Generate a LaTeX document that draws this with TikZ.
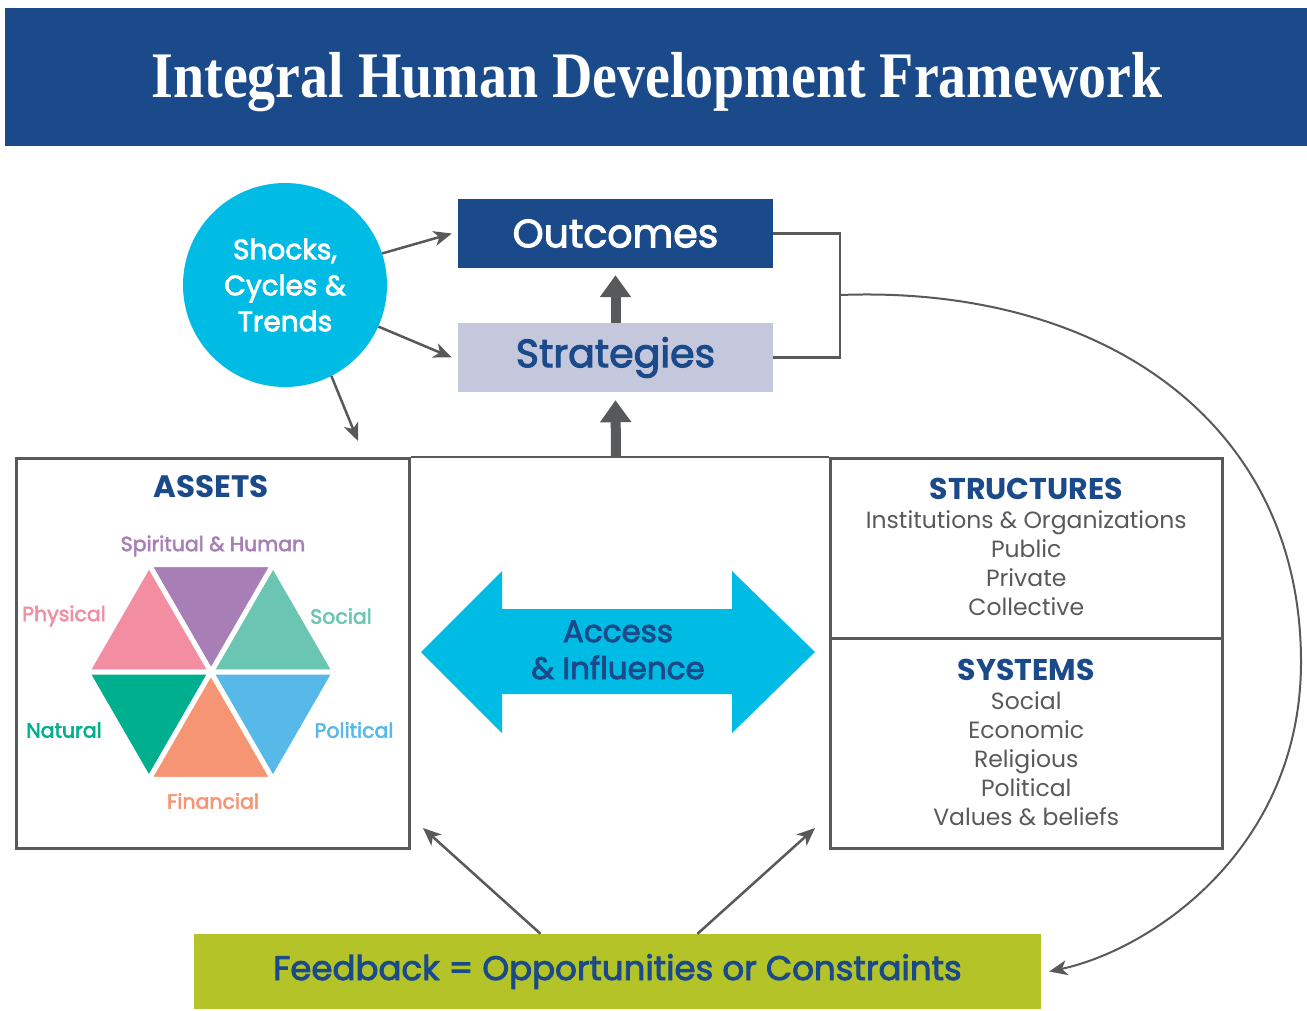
\documentclass[tikz,border=0pt]{standalone}
\usepackage{fontspec}
\setmainfont{Liberation Serif}
\setsansfont{Poppins}
\newfontfamily\medsans{Poppins}[FakeBold=2.6]
\usetikzlibrary{arrows.meta,positioning}

\definecolor{navy}{RGB}{26,74,137}
\definecolor{skyc}{RGB}{0,188,228}
\definecolor{lavend}{RGB}{197,200,220}
\definecolor{olivec}{RGB}{180,196,40}
\definecolor{linegray}{RGB}{88,89,91}
\definecolor{physical}{RGB}{242,141,162}
\definecolor{spirit}{RGB}{168,126,182}
\definecolor{social}{RGB}{107,197,179}
\definecolor{political}{RGB}{86,185,231}
\definecolor{financial}{RGB}{246,149,116}
\definecolor{natural}{RGB}{0,175,141}

\begin{document}
\begin{tikzpicture}[x=1pt, y=-1pt,
    panel/.style={draw=linegray, line width=2.5pt, inner sep=0pt, anchor=north west},
    conn/.style={draw=linegray, line width=2.5pt, -{Stealth[length=18pt, width=15pt, inset=5pt]}},
    fat/.style={draw=linegray, line width=10pt, -{Triangle[width=30pt, length=22pt]}},
    hexlabel/.style={font=\medsans\fontsize{20.5}{24}\selectfont},
    plain/.style={font=\sffamily\fontsize{23.5}{29}\selectfont, text=linegray, align=center}]
    \useasboundingbox (0,0) rectangle (1307,1010);

    % title band
    \node[fill=navy, minimum width=1302pt, minimum height=138pt, inner sep=0pt, anchor=north west] (banner) at (5,8) {};
    \node[anchor=base, text=white, font=\bfseries\fontsize{65}{65}\selectfont] (title) at (657,97)
        {\scalebox{0.86}[1]{Integral Human Development Framework}};

    % top part
    \node[circle, fill=skyc, minimum size=204pt, inner sep=0pt, text=white, align=center,
        font=\medsans\fontsize{28}{36}\selectfont] (shocks) at (285,285) {Shocks,\\Cycles \&\\Trends};
    \node[fill=navy, minimum width=315pt, minimum height=69pt, inner sep=0pt, text=white,
        font=\medsans\fontsize{39.5}{42}\selectfont] (outcomes) at (615.5,233.5) {Outcomes};
    \node[fill=lavend, minimum width=315pt, minimum height=69pt, inner sep=0pt, text=navy,
        font=\medsans\fontsize{39.5}{42}\selectfont] (strategies) at (615.5,357.5) {Strategies};

    \coordinate (shockin) at (358,441);
    \coordinate (join) at (840,295);
    \draw[conn] (shocks.18) -- ([xshift=-6pt]outcomes.west);
    \draw[conn] (shocks.-24) -- ([xshift=-6pt]strategies.west);
    \draw[conn] (shocks.-63) -- (shockin);
    \draw[fat] (strategies.north) -- ([yshift=-7pt]outcomes.south);
    \draw[draw=linegray, line width=2.5pt] (outcomes.east) -| (join) |- (strategies.east);

    % panels
    \node[panel, minimum width=393pt, minimum height=390pt] (assets) at (15,457) {};
    \node[panel, minimum width=392pt, minimum height=180pt] (structures) at (829,457) {};
    \node[panel, minimum width=392pt, minimum height=210pt] (systems) at (829,637) {};
    \draw[draw=linegray, line width=2.5pt] (assets.north east) -- (structures.north west);
    \coordinate (midtop) at (616,457);
    \draw[fat] (midtop) -- ([yshift=-8pt]strategies.south);

    % assets hexagon
    \node[text=navy, font=\sffamily\bfseries\fontsize{31}{34}\selectfont] (assetshead) at (211,487) {ASSETS};
    \begin{scope}[shift={(211,672)}, x=1pt, y=1pt]
        \foreach \a/\c in {0/social,60/spirit,120/physical,180/natural,240/financial,300/political}
            \filldraw[fill=\c, draw=white, line width=5pt, line join=round] (0,0) -- (\a:124) -- (\a+60:124) -- cycle;
    \end{scope}
    \node[hexlabel, text=spirit] (spiritual) at (213,546) {Spiritual \& Human};
    \node[hexlabel, text=physical] (physlabel) at (64,616) {Physical};
    \node[hexlabel, text=social] (soclabel) at (341,616) {Social};
    \node[hexlabel, text=natural] (natlabel) at (64,730) {Natural};
    \node[hexlabel, text=political] (pollabel) at (354,730) {Political};
    \node[hexlabel, text=financial] (finlabel) at (213,801) {Financial};

    % access arrow
    \fill[skyc] (421,652) -- (502,571) -- (502,609) -- (732,609) -- (732,571) -- (815,652)
        -- (732,733) -- (732,694) -- (502,694) -- (502,733) -- cycle;
    \node[text=navy, align=center, font=\medsans\fontsize{31}{37}\selectfont]
        (access) at (618,650) {Access\\\& Influence};

    % structures and systems
    \node[plain, anchor=north] (structtext) at ([yshift=-18pt]structures.north)
        {{\fontsize{30}{28}\selectfont\bfseries\color{navy}STRUCTURES}\\Institutions \& Organizations\\Public\\Private\\Collective};
    \node[plain, anchor=north] (systext) at ([yshift=-19pt]systems.north)
        {{\fontsize{30}{32}\selectfont\bfseries\color{navy}SYSTEMS}\\Social\\Economic\\Religious\\Political\\Values \& beliefs};

    % feedback
    \node[fill=olivec, minimum width=847pt, minimum height=75pt, inner sep=0pt, text=navy,
        font=\medsans\fontsize{34}{36}\selectfont] (feedback) at (617.5,971.5)
        {Feedback = Opportunities or Constraints};
    \coordinate (assetsin) at (423,828);
    \coordinate (systemsin) at (815,828);
    \draw[conn] ([xshift=-77pt]feedback.north) -- (assetsin);
    \draw[conn] ([xshift=80pt]feedback.north) -- (systemsin);
    \draw[conn, line width=2pt] (join) .. controls (1100,285) and (1300,420) .. (1301,660)
        .. controls (1302,850) and (1150,950) .. ([xshift=8pt]feedback.east);
\end{tikzpicture}
\end{document}
